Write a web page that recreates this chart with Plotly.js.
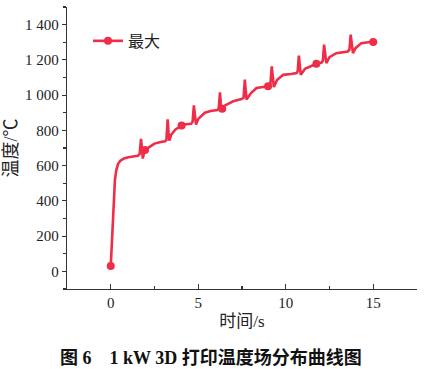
<!DOCTYPE html>
<html><head><meta charset="utf-8">
<script src="https://cdn.plot.ly/plotly-3.0.1.min.js"></script>
<style>html,body{margin:0;padding:0;background:#fff}#chart{width:424px;height:369px}</style>
</head><body><div id="chart"></div>
<script>
// Continuous temperature curve (time in s, temperature in °C)
const time = [0.00, 0.08, 0.16, 0.24, 0.32, 0.42, 0.55, 0.75, 1.00, 1.30, 1.55, 1.65, 1.73, 1.79, 1.83, 1.90, 1.96, 2.20, 2.50, 2.80, 3.10, 3.18, 3.25, 3.30, 3.35, 3.45, 3.70, 4.05, 4.30, 4.60, 4.68, 4.75, 4.81, 4.87, 5.00, 5.38, 5.70, 6.10, 6.17, 6.24, 6.29, 6.34, 6.50, 7.00, 7.47, 7.59, 7.66, 7.71, 7.76, 8.00, 8.33, 9.00, 9.12, 9.20, 9.26, 9.32, 9.50, 9.85, 10.30, 10.62, 10.68, 10.75, 10.81, 10.86, 11.10, 11.50, 11.75, 12.05, 12.12, 12.19, 12.25, 12.32, 12.50, 12.89, 13.55, 13.64, 13.71, 13.77, 13.84, 14.00, 14.32, 14.80, 15.00];
const temp = [30, 200, 400, 520, 575, 610, 628, 640, 647, 652, 656, 665, 752, 690, 640, 672, 688, 705, 725, 733, 738, 745, 862, 790, 742, 775, 805, 827, 835, 838, 850, 942, 870, 833, 865, 900, 910, 915, 925, 1016, 950, 922, 940, 965, 978, 985, 1088, 1020, 975, 1010, 1040, 1050, 1060, 1163, 1090, 1046, 1085, 1115, 1120, 1125, 1135, 1224, 1160, 1115, 1150, 1170, 1178, 1185, 1195, 1286, 1220, 1182, 1215, 1238, 1248, 1258, 1343, 1280, 1238, 1268, 1295, 1301, 1301];
// Marker points
const markerTime = [0, 1.96, 4.05, 6.37, 8.99, 11.75, 15.0];
const markerTemp = [30, 688, 827, 922, 1050, 1178, 1301];
const seriesName = '最大';
const xTitle = '时间/s';
const yTitle = '温度/℃';
const caption = '<b>图 6　1 kW 3D 打印温度场分布曲线图</b>';

const color = '#ef2d48';
const mx = [], my = [];
markerTime.forEach((t, i) => { if (i) { mx.push(null); my.push(null); } mx.push(t); my.push(markerTemp[i]); });

const serif = 'Liberation Serif, Times New Roman, Noto Sans CJK SC, serif';

const data = [
  {x: time, y: temp, type: 'scatter', mode: 'lines', line: {color: color, width: 2.6}, showlegend: false, hoverinfo: 'skip'},
  {x: mx, y: my, type: 'scatter', mode: 'lines+markers', name: seriesName, connectgaps: false,
   line: {color: color, width: 2.6}, marker: {color: color, size: 8}}
];

const axisCommon = {showline: true, linecolor: '#333', linewidth: 1.2, showgrid: false, zeroline: false,
  tickcolor: '#333', tickwidth: 1.2, tickfont: {family: serif, size: 15, color: '#222'}};

const layout = {
  width: 424, height: 369,
  margin: {l: 67, r: 7, t: 7, b: 80},
  paper_bgcolor: '#fff', plot_bgcolor: '#fff',
  separators: '. ',
  font: {family: serif, color: '#222'},
  showlegend: true,
  legend: {x: 0.06, y: 0.94, xanchor: 'left', yanchor: 'top', bgcolor: 'rgba(0,0,0,0)',
    font: {family: 'Noto Sans CJK SC, sans-serif', size: 16, color: '#222'}},
  xaxis: Object.assign({}, axisCommon, {
    range: [-2.5, 17.5], tickmode: 'linear', tick0: 0, dtick: 5,
    ticks: 'inside', ticklen: 5,
    minor: {dtick: 2.5, tick0: 0, ticks: 'inside', ticklen: 3, tickcolor: '#333', tickwidth: 1.2},
    title: {text: xTitle, font: {family: serif, size: 17, color: '#222'}, standoff: 4}
  }),
  yaxis: Object.assign({}, axisCommon, {
    range: [-100, 1500], tickmode: 'linear', tick0: 0, dtick: 200, separatethousands: true,
    ticks: 'outside', ticklen: 4,
    minor: {dtick: 100, tick0: 0, ticks: 'outside', ticklen: 2.5, tickcolor: '#333', tickwidth: 1.2},
    title: {text: yTitle, font: {family: serif, size: 18, color: '#222'}, standoff: 2}
  }),
  annotations: [{text: caption, xref: 'paper', yref: 'paper', x: 0.411, y: -0.245,
    xanchor: 'center', yanchor: 'middle', showarrow: false,
    font: {family: serif, size: 18, color: '#111'}}]
};

Plotly.newPlot('chart', data, layout, {staticPlot: true, displayModeBar: false});
</script>
</body></html>
